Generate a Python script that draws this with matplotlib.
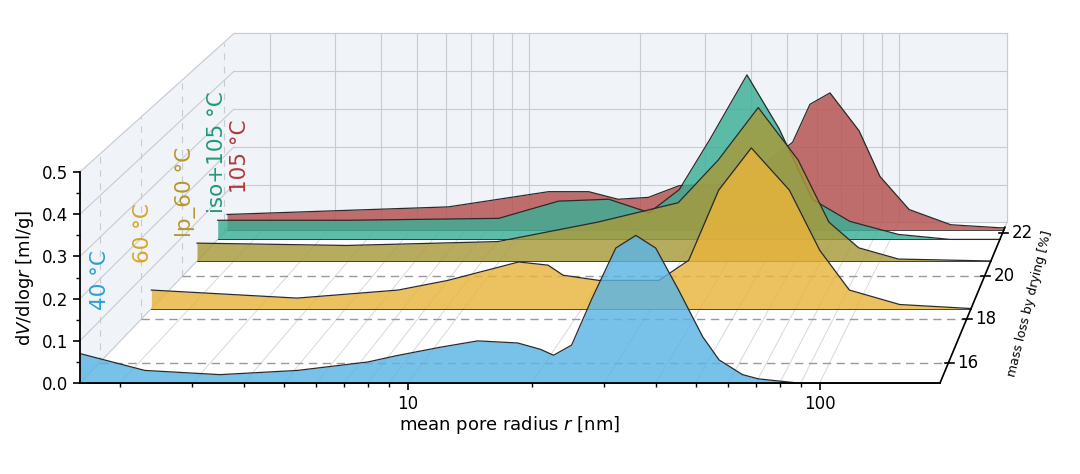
import matplotlib
matplotlib.use("Agg")
import matplotlib.pyplot as plt
import numpy as np
from matplotlib.transforms import Affine2D, IdentityTransform

# --- Data (series drawn back to front) ---
names = ["105 °C", "iso+105 °C", "lp_60 °C", "60 °C", "40 °C"]
radius = {
    "105 °C":     [1.6, 6.3, 11.7, 15.0, 18.0, 21.7, 26.3, 38, 53, 59, 66.8, 80, 91, 109, 141, 191, 196],
    "iso+105 °C": [1.6, 3.57, 9.0, 13.0, 17.7, 22.7, 27.3, 32.9, 41.4, 50.4, 62, 78, 105, 144, 196],
    "lp_60 °C":   [1.6, 3.96, 9.9, 18.1, 29.5, 37.6, 47.9, 61, 73.5, 88, 112, 196],
    "60 °C":      [1.6, 3.76, 6.8, 9.1, 13.8, 16.4, 17.9, 22.1, 31.4, 37.4, 44.6, 54, 67.5, 80.7, 96, 129, 196],
    "40 °C":      [1.6, 2.3, 3.5, 5.4, 8, 9.4, 12, 14.8, 18.5, 21, 22.6, 25, 28, 32, 35.8, 40, 45.5, 52, 57, 65, 71, 89, 196],
}
dvdlogr = {
    "105 °C":     [0.04, 0.06, 0.10, 0.10, 0.08, 0.085, 0.116, 0.12, 0.23, 0.33, 0.36, 0.26, 0.14, 0.053, 0.013, 0.005, 0.005],
    "iso+105 °C": [0.05, 0.05, 0.055, 0.10, 0.105, 0.07, 0.13, 0.26, 0.43, 0.29, 0.104, 0.047, 0.013, 0.0, 0.0],
    "lp_60 °C":   [0.046, 0.04, 0.05, 0.10, 0.15, 0.26, 0.395, 0.26, 0.10, 0.034, 0.005, 0.0],
    "60 °C":      [0.046, 0.026, 0.046, 0.07, 0.116, 0.108, 0.083, 0.07, 0.07, 0.12, 0.295, 0.40, 0.295, 0.145, 0.046, 0.01, 0.0],
    "40 °C":      [0.07, 0.03, 0.02, 0.03, 0.05, 0.065, 0.085, 0.10, 0.095, 0.08, 0.066, 0.09, 0.20, 0.32, 0.35, 0.32, 0.22, 0.11, 0.055, 0.02, 0.01, 0.0, 0.0],
}
mass_loss = {"105 °C": 22.15, "iso+105 °C": 21.7, "lp_60 °C": 20.7, "60 °C": 18.5, "40 °C": 15.05}
depth_ticks = [16, 18, 20, 22]
fill_colors = {"105 °C": "#b5504e", "iso+105 °C": "#3aaf96", "lp_60 °C": "#a89a3a",
               "60 °C": "#e8b43c", "40 °C": "#5ab4e5"}
text_colors = {"105 °C": "#b03a3a", "iso+105 °C": "#1f9a7a", "lp_60 °C": "#b8962a",
               "60 °C": "#d9a520", "40 °C": "#2a9fd6"}
# label anchor (x, y from bottom) in pixels
label_pos = {"105 °C": (240, 281), "iso+105 °C": (217, 261), "lp_60 °C": (186, 237),
             "60 °C": (143, 211), "40 °C": (100, 164)}

W, H = 1080, 474
fig = plt.figure(figsize=(W / 100, H / 100), dpi=100)
x0, x1, yb, yt = 80, 940, 91, 302
ax = fig.add_axes([x0 / W, yb / H, (x1 - x0) / W, (yt - yb) / H])
ax.set_xscale("log")
ax.set_xlim(1.6, 196)
ax.set_ylim(0, 0.5)
ax.patch.set_alpha(0)
ID = IdentityTransform()
D_BACK = 1.1


def depth(m):
    return 0.14 + (m - 16) * 0.148


def layer_tf(d):
    a = 0.092
    t = (Affine2D().translate(-x0, -yb).scale(1 - d * a, 1 - d * 0.095)
         .translate(x0 + d * 140, yb + d * 146))
    return ax.transData + t


def pix(d, x, z):
    return layer_tf(d).transform((x, z))


def seg(p, q, **kw):
    ax.plot([p[0], q[0]], [p[1], q[1]], transform=ID, clip_on=False, **kw)


# walls
wall = "#f0f3f7"
corners = [pix(D_BACK, 1.6, 0), pix(D_BACK, 196, 0), pix(D_BACK, 196, 0.5), pix(D_BACK, 1.6, 0.5)]
ax.fill([c[0] for c in corners], [c[1] for c in corners], color=wall, transform=ID, clip_on=False, zorder=0)
lw_c = [pix(0, 1.6, 0), pix(D_BACK, 1.6, 0), pix(D_BACK, 1.6, 0.5), pix(0, 1.6, 0.5)]
ax.fill([c[0] for c in lw_c], [c[1] for c in lw_c], color=wall, transform=ID, clip_on=False, zorder=0)

grid_kw = dict(color="#c8ccd2", lw=0.8, zorder=0.2)
minor = [2, 3, 4, 5, 6, 7, 8, 9, 10, 20, 30, 40, 50, 60, 70, 80, 90, 100]
for t in minor:
    seg(pix(D_BACK, t, 0), pix(D_BACK, t, 0.5), **grid_kw)
    seg(pix(0, t, 0), pix(D_BACK, t, 0), color="#d8d8d8", lw=0.7, zorder=0.2)
seg(pix(D_BACK, 196, 0), pix(D_BACK, 196, 0.5), **grid_kw)
for z in [0, 0.1, 0.2, 0.3, 0.4, 0.5]:
    seg(pix(D_BACK, 1.6, z), pix(D_BACK, 196, z), **grid_kw)
    seg(pix(0, 1.6, z), pix(D_BACK, 1.6, z), **grid_kw)
seg(pix(0, 196, 0), pix(D_BACK, 196, 0), **grid_kw)
for m in depth_ticks:
    d = depth(m)
    seg(pix(d, 1.6, 0), pix(d, 1.6, 0.5), color="#c8ccd2", lw=0.8, ls=(0, (6, 6)), zorder=0.2)
# dashed floor lines
for m in depth_ticks[:3]:
    seg(pix(depth(m), 1.6, 0), pix(depth(m), 196, 0), color="#999999", lw=1.0,
        ls=(0, (6, 4)), zorder=0.5)

# layers, back to front
for i, name in enumerate(names):
    tf = layer_tf(depth(mass_loss[name]))
    ax.fill_between(radius[name], 0, dvdlogr[name], transform=tf, color=fill_colors[name],
                    alpha=0.82, lw=0, clip_on=False, zorder=1 + i)
    ax.plot(radius[name], dvdlogr[name], transform=tf, color="#2a2a2a", lw=0.9,
            clip_on=False, zorder=1 + i)
    ax.plot([1.6, 196], [0, 0], transform=tf, color="#2a2a2a", lw=0.6, clip_on=False, zorder=1 + i)
    px, py = label_pos[name]
    fig.text(px / W, py / H, name, rotation=90, color=text_colors[name], fontsize=15.5,
             ha="center", va="bottom", zorder=10)

# depth axis on the right
seg(pix(0, 196, 0), pix(D_BACK * 0.97, 196, 0), color="black", lw=1.2, zorder=12)
for m in depth_ticks:
    p = pix(depth(m), 196, 0)
    seg((p[0] - 4, p[1]), (p[0] + 5, p[1]), color="black", lw=1.2, zorder=12)
    fig.text((p[0] + 9) / W, p[1] / H, str(m), fontsize=12, va="center", ha="left")
fig.text(1030 / W, 170 / H, "mass loss by drying [%]", fontsize=9, rotation=76,
         ha="center", va="center")

ax.spines["top"].set_visible(False)
ax.spines["right"].set_visible(False)
ax.spines["left"].set_linewidth(1.3)
ax.spines["bottom"].set_linewidth(1.3)
ax.spines["left"].set_zorder(11)
ax.spines["bottom"].set_zorder(11)
ax.set_yticks([0, 0.1, 0.2, 0.3, 0.4, 0.5])
ax.set_yticks(np.arange(0.05, 0.5, 0.1), minor=True)
ax.yaxis.set_major_formatter(matplotlib.ticker.FormatStrFormatter("%.1f"))
ax.set_xticks([10, 100])
ax.set_xticklabels(["10", "100"])
ax.tick_params(labelsize=12, width=1.2, length=5)
ax.tick_params(which="minor", length=3, width=1.0)
ax.set_xlabel("mean pore radius $r$ [nm]", fontsize=13, labelpad=1)
ax.set_ylabel("d$V$/dlog$r$ [ml/g]", fontsize=13, labelpad=4)

plt.savefig("out.png", dpi=100)
